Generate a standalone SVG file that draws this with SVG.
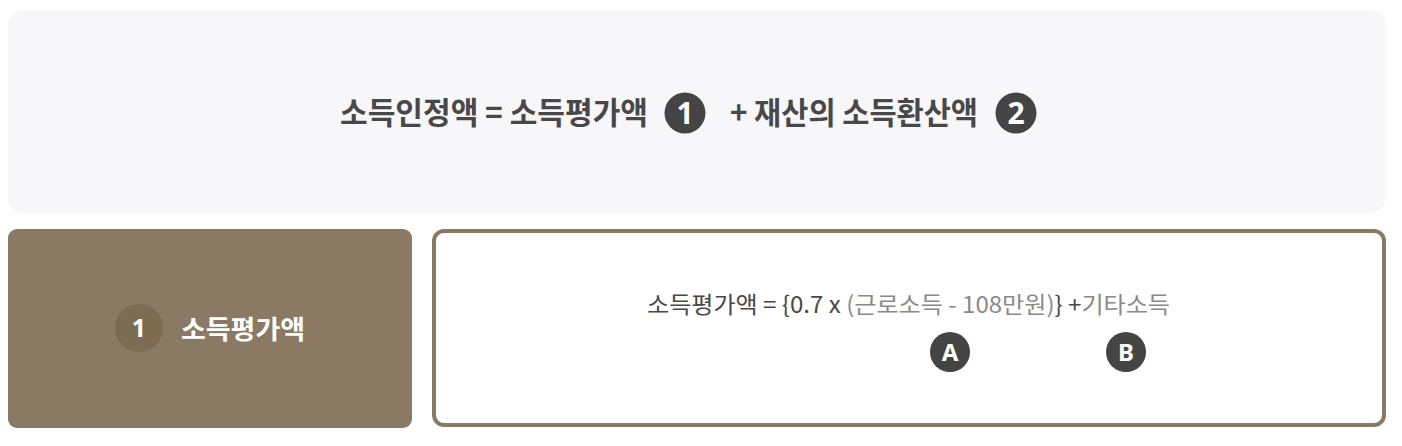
<svg xmlns="http://www.w3.org/2000/svg" width="1402" height="446" viewBox="0 0 1402 446">
<style>
.k{font-family:"Noto Sans CJK KR","Noto Sans",sans-serif}
.b{font-weight:700}
.dk{fill:#484848}
.gy{fill:#8a8a8a}
.badge{fill:#444444}
.bt{fill:#ffffff;font-family:"Noto Sans","Noto Sans CJK KR",sans-serif;font-weight:700;text-anchor:middle}
</style>
<rect width="1402" height="446" fill="#ffffff"/>
<g id="formula-top">
<rect x="8" y="10" width="1378" height="203" rx="16" fill="#f7f7f9"/>
<text class="k b dk" x="340" y="124" font-size="31" textLength="308" lengthAdjust="spacingAndGlyphs">소득인정액 = 소득평가액</text>
<circle class="badge" cx="685" cy="113" r="20.5"/>
<text class="bt" x="685" y="124" font-size="30">1</text>
<text class="k b dk" x="730" y="124" font-size="31" textLength="248" lengthAdjust="spacingAndGlyphs">+ 재산의 소득환산액</text>
<circle class="badge" cx="1016" cy="113" r="20.5"/>
<text class="bt" x="1016" y="124" font-size="30">2</text>
</g>
<g id="label-1">
<rect x="8" y="229" width="404" height="199" rx="9" fill="#8a7a65"/>
<circle cx="139" cy="328" r="24" fill="#7b6c52"/>
<text class="bt" x="139" y="337" font-size="25">1</text>
<text class="k b" x="181" y="339" font-size="26" fill="#ffffff" textLength="124" lengthAdjust="spacingAndGlyphs">소득평가액</text>
</g>
<g id="formula-detail">
<rect x="434" y="231" width="950" height="194" rx="10" fill="#ffffff" stroke="#8a7a65" stroke-width="4"/>
<text class="k" x="647" y="313" font-size="23" textLength="523" lengthAdjust="spacingAndGlyphs"><tspan class="dk">소득평가액 = {0.7 x </tspan><tspan class="gy">(근로소득 - 108만원)</tspan><tspan class="dk">} +</tspan><tspan class="gy">기타소득</tspan></text>
<circle class="badge" cx="950" cy="352" r="20"/>
<text class="bt" x="950" y="361" font-size="24">A</text>
<circle class="badge" cx="1126" cy="352" r="20"/>
<text class="bt" x="1126" y="361" font-size="24">B</text>
</g>
<g id="connectors"></g>
</svg>
